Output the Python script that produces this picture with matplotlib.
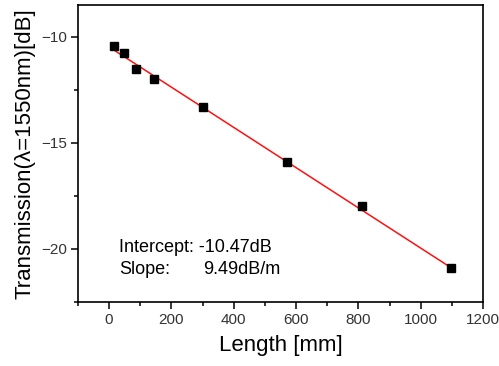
import numpy as np
import matplotlib
matplotlib.use('Agg')
import matplotlib.pyplot as plt
from matplotlib.ticker import MultipleLocator

length_mm = [17, 49, 86, 143, 300, 572, 811, 1096]
trans_db = [-10.41, -10.77, -11.50, -11.97, -13.31, -15.89, -17.96, -20.89]

# linear fit shown in the figure
intercept = -10.47
slope = -0.00949  # dB/mm
fit_x = [14, 1100]

plt.rcParams['font.family'] = ['Liberation Sans', 'DejaVu Sans']

fig = plt.figure(figsize=(4.99, 3.66), dpi=100)
ax = fig.add_axes([0.156, 0.175, 0.812, 0.811])

fx = np.array(fit_x)
ax.plot(fx, intercept + slope * fx, color='#ff1010', lw=1.1, zorder=2)
ax.plot(length_mm, trans_db, 's', color='black', ms=5.5, zorder=3)

ax.set_xlim(-100, 1200)
ax.set_ylim(-22.5, -8.5)
ax.xaxis.set_major_locator(MultipleLocator(200))
ax.xaxis.set_minor_locator(MultipleLocator(100))
ax.yaxis.set_major_locator(MultipleLocator(5))
ax.yaxis.set_minor_locator(MultipleLocator(2.5))
ax.tick_params(which='major', direction='out', length=5, width=1.1,
               labelsize=11, labelcolor='#333333', pad=3)
ax.tick_params(which='minor', direction='out', length=3, width=1.1)
ax.tick_params(top=False, right=False)
for s in ax.spines.values():
    s.set_linewidth(1.2)

ax.set_xlabel('Length [mm]', fontsize=16, labelpad=6)
ax.set_ylabel('Transmission(\u03bb=1550nm)[dB]', fontsize=16, labelpad=4)

ax.text(0.101, 0.182, 'Intercept: -10.47dB', transform=ax.transAxes,
        fontsize=13, va='center', ha='left')
ax.text(0.101, 0.108, 'Slope:', transform=ax.transAxes,
        fontsize=13, va='center', ha='left')
ax.text(0.309, 0.108, '9.49dB/m', transform=ax.transAxes,
        fontsize=13, va='center', ha='left')

fig.savefig('out.png', dpi=100)
